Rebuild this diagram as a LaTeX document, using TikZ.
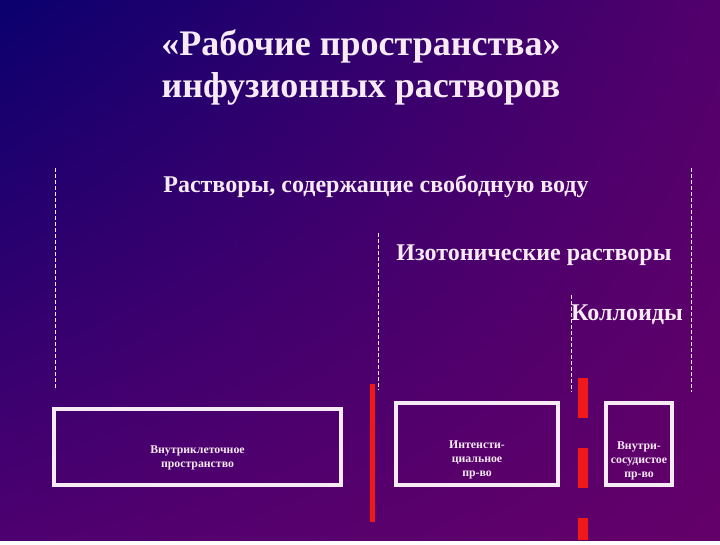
\documentclass[tikz,border=0pt]{standalone}
\usepackage{fontspec}
\setmainfont{Liberation Serif}
\usepackage{tikz}
\usetikzlibrary{positioning, calc, shadings}
\definecolor{slidenavy}{RGB}{10,0,110}
\definecolor{slideviolet}{RGB}{82,0,108}
\definecolor{slideplum}{RGB}{78,0,112}
\definecolor{slidepurple}{RGB}{100,0,105}
\definecolor{textwhite}{HTML}{F6EAF4}
\definecolor{barred}{HTML}{F01818}

\begin{document}
\begin{tikzpicture}[
  x=1pt, y=-1pt,
  title/.style={font=\bfseries\fontsize{36}{42}\selectfont, text=textwhite, align=center},
  group/.style={font=\bfseries\fontsize{24}{28}\selectfont, text=textwhite, inner sep=1pt},
  space/.style={draw=textwhite, line width=4pt, inner sep=0pt},
  spacetext/.style={font=\bfseries\fontsize{11.8}{14}\selectfont, text=textwhite, align=center, inner sep=0pt},
  border/.style={draw=textwhite, line width=0.8pt, dash pattern=on 4pt off 2pt},
  wall/.style={draw=barred, line width=5pt},
  gate/.style={draw=barred, line width=10pt, dash pattern=on 40pt off 30pt}
]
  % background of the slide
  \shade[upper left=slidenavy, upper right=slideviolet, lower left=slideplum, lower right=slidepurple]
    (0,0) rectangle (720,540);

  \node[title] (head) at (361,68) {«Рабочие пространства»\\инфузионных растворов};

  % the three groups of solutions
  \node[group] (free) at (376,187) {Растворы, содержащие свободную воду};
  \node[group] (iso) at (534,255) {Изотонические растворы};
  \node[group] (coll) at (627,315) {Коллоиды};

  % limits of each group
  \coordinate (freeL1) at (55,168);  \coordinate (freeL2) at (55,390);
  \coordinate (freeR1) at (691,168); \coordinate (freeR2) at (691,392);
  \coordinate (isoL1) at (378,233);  \coordinate (isoL2) at (378,390);
  \coordinate (collL1) at (571,295); \coordinate (collL2) at (571,392);
  \draw[border] (freeL1) -- (freeL2);
  \draw[border] (freeR1) -- (freeR2);
  \draw[border] (isoL1) -- (isoL2);
  \draw[border] (collL1) -- (collL2);

  % spaces
  \node[space, minimum width=287pt, minimum height=76pt] (intra) at (197.5,447) {};
  \node[space, minimum width=162pt, minimum height=82pt] (inter) at (477,444) {};
  \node[space, minimum width=66pt, minimum height=82pt] (vasc) at (639,444) {};
  \node[spacetext] (intratext) at ($(intra.center)+(0,11)$) {Внутриклеточное\\пространство};
  \node[spacetext] (intertext) at ($(inter.center)+(0,16)$) {Интенсти-\\циальное\\пр-во};
  \node[spacetext] (vasctext) at ($(vasc.center)+(0,17)$) {Внутри-\\сосудистое\\пр-во};

  % membranes between the spaces
  \coordinate (cell1) at (372.5,384); \coordinate (cell2) at (372.5,522);
  \coordinate (vess1) at (582.5,378); \coordinate (vess2) at (582.5,540);
  \draw[wall] (cell1) -- (cell2);
  \draw[gate] (vess1) -- (vess2);
\end{tikzpicture}
\end{document}
